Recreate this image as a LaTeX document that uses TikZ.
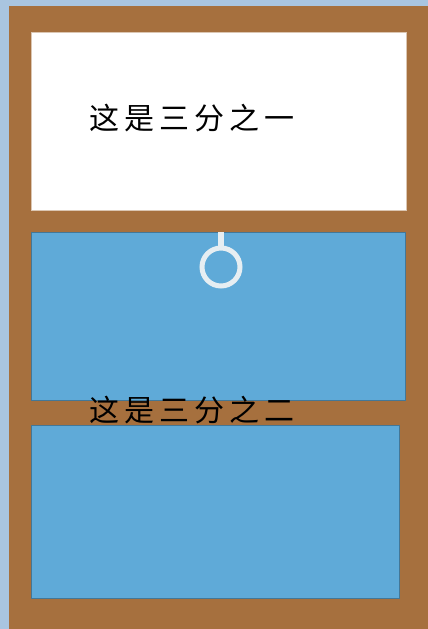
\documentclass[tikz,border=0pt]{standalone}
\usepackage{fontspec}
\newfontfamily\cjk{Noto Sans CJK SC}
\definecolor{fondo}{HTML}{A9C5E0}
\definecolor{marco}{HTML}{A6703E}
\definecolor{vidrio}{HTML}{5FAAD8}
\definecolor{anillo}{HTML}{E6EEF2}
\begin{document}
\begin{tikzpicture}[x=1pt,y=-1pt]
\useasboundingbox (0,0) rectangle (428,629);
% Fondo y Marco
\fill[fondo] (0,0) rectangle (428,629);
\fill[marco] (9,6) rectangle (428,629);
% Paneles
\draw[fill=white, draw=marco!40] (31,32) rectangle (406,210);
\draw[fill=vidrio, draw=vidrio!70!black, line width=0.8pt] (31,232) rectangle (405,400);
\draw[fill=vidrio, draw=vidrio!70!black, line width=0.8pt] (31,425) rectangle (399,598);
% Anillo
\draw[anillo, line width=6pt] (221,232) -- (221,248);
\draw[anillo, line width=5pt] (221,267) circle (19pt);
% Textos
\node (tercioUno) at (192,118) {\cjk\fontsize{30}{30}\selectfont\makebox[205pt][s]{这\hfill 是\hfill 三\hfill 分\hfill 之\hfill 一}};
\node (tercioDos) at (192,410) {\cjk\fontsize{30}{30}\selectfont\makebox[205pt][s]{这\hfill 是\hfill 三\hfill 分\hfill 之\hfill 二}};
\end{tikzpicture}
\end{document}
